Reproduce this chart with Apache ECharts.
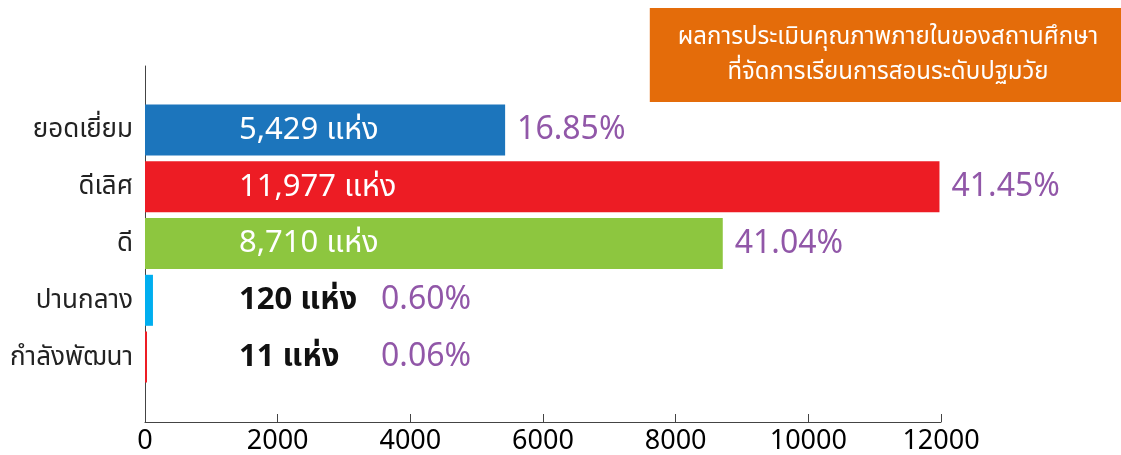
<!DOCTYPE html>
<html>
<head>
<meta charset="utf-8">
<script src="https://cdn.jsdelivr.net/npm/echarts@6/dist/echarts.min.js"></script>
<style>
  html, body { margin: 0; padding: 0; background: #fff; }
  #chart { width: 1121px; height: 455px; }
</style>
</head>
<body>
<div id="chart"></div>
<script>
const categories = ['ยอดเยี่ยม', 'ดีเลิศ', 'ดี', 'ปานกลาง', 'กำลังพัฒนา'];
const counts = [5429, 11977, 8710, 120, 11];
const percents = ['16.85%', '41.45%', '41.04%', '0.60%', '0.06%'];
const barColors = ['#1c75bc', '#ed1c24', '#8dc63f', '#00aeef', '#ed1c24'];
const xTicks = [0, 12000, 2000];

const FONT = '"Noto Sans", "Noto Sans Thai", sans-serif';
const PURPLE = '#9157a8';

const chart = echarts.init(document.getElementById('chart'));

// small bars: text sits outside the bar in black, percent placed after the count
const isSmall = v => v < 1000;

const barData = counts.map((v, i) => ({
  value: v,
  itemStyle: { color: barColors[i] },
  label: { color: isSmall(v) ? '#111' : '#fff', fontWeight: isSmall(v) ? 'bold' : 'normal' }
}));

const pctData = counts.map(v => ({
  value: v,
  label: isSmall(v) ? { position: 'insideLeft', distance: 0, offset: [236, 0] } : {}
}));

chart.setOption({
  animation: false,
  title: {
    text: 'ผลการประเมินคุณภาพภายในของสถานศึกษา\nที่จัดการเรียนการสอนระดับปฐมวัย',
    left: 860,
    top: 8,
    textAlign: 'center',
    backgroundColor: '#e46c0a',
    padding: [12, 28],
    textStyle: { color: '#fff', fontSize: 24, fontWeight: 'normal', lineHeight: 35, fontFamily: FONT }
  },
  grid: [
    { left: 145, top: 66, width: 796, height: 356 },
    { left: 145, top: 101.5, width: 796, height: 284 }
  ],
  xAxis: [
    {
      gridIndex: 0, type: 'value', min: xTicks[0], max: xTicks[1], interval: xTicks[2],
      axisLine: { show: true, lineStyle: { color: '#444', width: 1 } },
      axisTick: { show: true, inside: true, length: 8, lineStyle: { color: '#444' } },
      axisLabel: { color: '#000', fontSize: 27, margin: 6, fontFamily: FONT, formatter: v => String(v) },
      splitLine: { show: false }
    },
    {
      gridIndex: 1, type: 'value', min: xTicks[0], max: xTicks[1], show: false
    }
  ],
  yAxis: [
    {
      gridIndex: 0, type: 'value', min: 0, max: 1,
      axisLine: { show: true, lineStyle: { color: '#444', width: 1 } },
      axisTick: { show: false }, axisLabel: { show: false }, splitLine: { show: false }
    },
    {
      gridIndex: 1, type: 'category', data: categories, inverse: true,
      axisLine: { show: false }, axisTick: { show: false },
      axisLabel: { color: '#222', fontSize: 26, margin: 12, fontFamily: FONT }
    }
  ],
  series: [
    {
      type: 'bar', xAxisIndex: 1, yAxisIndex: 1,
      data: barData,
      barWidth: 51,
      barMinHeight: 2,
      label: {
        show: true, position: 'insideLeft', distance: 0, offset: [94, 0],
        fontSize: 31, fontFamily: FONT,
        formatter: p => p.value.toLocaleString('en-US') + ' แห่ง'
      }
    },
    {
      type: 'bar', xAxisIndex: 1, yAxisIndex: 1,
      data: pctData,
      barWidth: 51, barGap: '-100%',
      itemStyle: { color: 'transparent' },
      silent: true,
      label: {
        show: true, position: 'right', distance: 12,
        color: PURPLE, fontSize: 32, fontFamily: FONT,
        formatter: p => percents[p.dataIndex]
      },
      z: 3
    }
  ]
});
</script>
</body>
</html>
